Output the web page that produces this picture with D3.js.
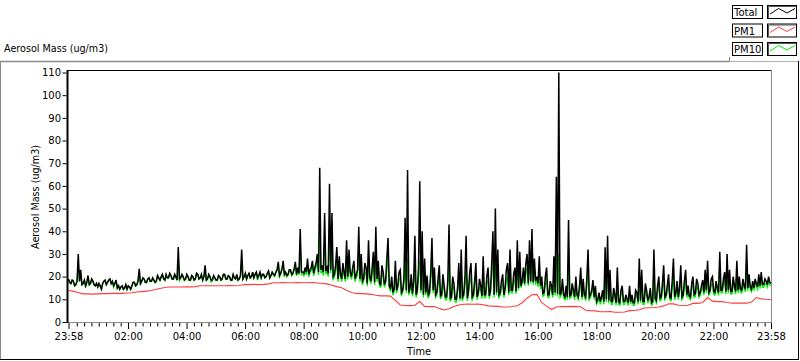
<!DOCTYPE html>
<html><head><meta charset="utf-8">
<script src="https://cdn.jsdelivr.net/npm/d3@7"></script>
<style>
html,body{margin:0;padding:0;background:#fff;}
svg{display:block;}
text{font-family:"DejaVu Sans",sans-serif;fill:#000;}
</style></head><body>
<svg id="chart" width="800" height="361"></svg>
<script>
// ---------- DATA ----------
const seriesNames = ["Total", "PM1", "PM10"];
const seriesColors = ["#000000", "#ff3c3c", "#00ee00"];
const titleText = "Aerosol Mass (ug/m3)";
const xAxisTitle = "Time";
const yAxisTitle = "Aerosol Mass (ug/m3)";
const yTicks = [0, 10, 20, 30, 40, 50, 60, 70, 80, 90, 100, 110];
const xTickLabels = ["23:58", "02:00", "04:00", "06:00", "08:00", "10:00", "12:00",
                     "14:00", "16:00", "18:00", "20:00", "22:00", "23:58"];
const startTime = "2000-01-01T23:58:00Z";
const sampleStepMin = 2.5;   // Total and PM10 samples (one row = one hour)
const pm1StepMin = 10;       // PM1 samples

const total = [
 19,17.5, 17,18.5, 18,16, 16.5,18, 30,18, 23,16.5, 17,18.5, 16,17.5, 20.5,16.5, 17,19, 18,16.5, 16,17,
 15.5,17, 16,14.5, 17,18, 18.5,16.5, 17.5,18.5, 19,17, 18,16, 17,18.5, 15,16, 14.5,15.5, 16,14.5, 15,16.5,
 14.5,16, 15.5,14.5, 16,17.5, 17.5,16, 16.5,18, 23.5,17, 18,19.5, 19,17.5, 17.5,19, 19.5,18, 18,19.5, 18.5,17.5,
 18,20.5, 19.5,18.5, 20,21, 19,18.5, 21,19.5, 19.5,21.5, 20.5,19, 19,21, 20,18.5, 33,19, 19.5,21, 20,18.5,
 19,21, 20,18.5, 18.5,20.5, 20,18.5, 19,21.5, 21,19, 19.5,21, 18.5,20, 25,18.5, 19,21, 20,18.5, 18.5,20.5,
 19.5,18.5, 18.5,20.5, 20,18.5, 19,21, 21,19, 19,20.5, 20,18.5, 18.5,21, 19.5,19, 21,18.5, 19,20.5, 32,19,
 20,21.5, 19,20.5, 21.5,19.5, 20,22, 19.5,21, 22,19.5, 20.5,22, 19.5,21, 21,19.5, 20,21.5, 22.5,19.5, 20.5,22,
 21,20.5, 22,23, 26.5,20.5, 21.5,23.5, 27,21, 22,20.5, 21,23, 23,21, 21.5,23.5, 26.5,21, 24,21.5, 41,22,
 22,21.5, 24,22, 28,21, 23,24, 27,21.5, 24,26, 30,22, 68,23, 25,22, 48,22.5, 24,21.5, 61,23,
 48,20, 21,25, 33,19, 29,21, 19,26, 22,19, 36,20, 32,22, 20,24, 27,19, 21,23, 42,19,
 30,18, 19,26, 24,17, 36,20, 18,24, 31,17.5, 42,19, 27,17, 16.5,25, 22,16.5, 18,28, 37,16,
 15,20, 13,14.5, 27,14, 16,22, 23,13, 14,19, 46,14, 67,13, 15,21, 12.5,18, 38,12, 14,24,
 62,14, 40,12, 28,13, 20.5,12, 13,22, 37,14, 24,12, 13,19, 25,11.5, 12,21, 16,11, 11,18,
 43,10.5, 11,20, 17,10, 10,15, 26,10.5, 32,11, 12,19, 38,10.5, 14,22, 26,11, 12,18, 26,11,
 13,19, 16,11.5, 29,12, 12,20, 24,11.5, 14,26, 40,12, 50,13, 32,12, 13,18, 21,12, 15,23,
 26,13, 32,14, 14,21, 24,13.5, 36,15, 31,16, 18,24, 17,26, 30,17, 36,18, 41,17.5, 28,18,
 20,17, 29,16, 20,12.5, 13,20, 24,12, 12,18, 16,12, 29,13, 64,12.5, 110,12, 13,19, 12,11,
 16,11, 45,11.5, 12,17, 14,11, 20,12, 11,16, 24,11, 19,12, 11,19, 32,11, 12,14, 18.5,11,
 16,9, 10,13, 9,11, 14,9, 33,10, 38,9.5, 23,9, 9,15, 12,8.5, 24,9, 8.5,14, 16,9,
 9,12, 10,8.5, 16,9, 12,8.5, 8.5,14, 13,9, 28,9.5, 23,9, 9,17, 14,9.5, 11,15, 8.5,9,
 32,10.5, 9.5,16, 20,10.5, 11,17, 25,11, 12,16, 21,11, 10.5,18, 28,11, 13,18, 11,15, 25,11,
 12,18, 23,12, 16,11.5, 11,17, 20,12, 12.5,19, 17,12, 13,16, 18.5,13, 23,14, 27,13, 14,19,
 20,13.5, 13,18, 15,13, 31,14, 14,19, 22,13.5, 30,14, 23,13.5, 13.5,20, 16,13.5, 27,14, 20,14.5,
 14,19, 16,14.5, 34,15, 21,15.5, 14.5,18, 15,19, 17,15.5, 21,16, 22,16.5, 16.5,19, 18,16.5, 20,17.5,
 17
];

const pm10 = [
 18.8,17.3, 16.8,18.3, 17.8,15.8, 16.3,17.8, 25,17.8, 20.5,16.3, 16.8,18.3, 15.2,17.3, 19.5,16.3, 16.8,18.8, 17.8,16.3, 15.8,16.8,
 15.3,16.8, 15.8,14.3, 16.8,17.8, 18.3,16.3, 17.3,18.3, 18.8,16.8, 17.8,15.2, 16.8,18.3, 14.8,15.8, 14.3,15.3, 15.8,14.3, 14.8,16.3,
 14.3,15.8, 15.3,14.3, 15.8,17.3, 17.3,15.8, 16.3,17.8, 21,16.2, 17.8,19.3, 18.8,17.3, 17.3,18.8, 19.3,17.8, 17.8,19.3, 18.3,17.3,
 17.8,20.3, 19.3,18.3, 19.8,20.8, 18.8,18.3, 20.8,19.3, 19.3,21.3, 20.3,18.8, 18.8,20.8, 19.8,18.3, 27,18.2, 19.3,20.8, 19.8,18.3,
 18.8,20.8, 19.8,18.3, 18.3,20.3, 19.8,18.3, 18.8,21.3, 20.8,18.8, 19.3,20.8, 18.3,19.8, 22.5,18.3, 18.8,20.8, 19.8,17.5, 18.3,20.3,
 19.3,18.3, 18.3,20.3, 19.8,18.3, 18.8,20.8, 20.8,18.8, 18.8,20.3, 19.8,18.3, 18.3,20.8, 19.3,18.8, 20.8,18.3, 18.8,20.3, 26,18.8,
 19.8,21.3, 18.8,20.3, 21.3,19.3, 19.8,21.8, 19.3,20.8, 21.8,18.5, 20.3,21.8, 19.3,20.8, 20.8,19.3, 19.8,21.3, 22.3,19.3, 20.3,21.8,
 20.7,20, 21.6,22.6, 24,19.8, 21,22.8, 24,20.5, 21.5,19.8, 20.5,22.5, 22.5,20.3, 21,23, 24,20.3, 23,20.8, 33,21,
 21,20.3, 23,20.8, 25.5,19.8, 22,22.5, 25,20.3, 22.5,24, 27,20.8, 42,21.5, 23,20.5, 36,21, 22.5,20, 38,21.5,
 34,18.8, 19.8,22, 27,17.8, 24,19.8, 17.8,22.5, 20.5,17.8, 29,18.8, 26,20.5, 18.8,21.5, 23,17.8, 19.8,20.5, 31,17.8,
 25,16.8, 17.8,22, 21,15.8, 28,18.5, 16.8,21, 25,16.3, 31,17.8, 22.5,15.8, 15.3,21.5, 19.5,15.3, 16.8,23, 28,14.8,
 13.8,17.5, 11.8,13.3, 21.5,12.8, 14.8,18.5, 19.5,11.8, 12.8,16.5, 26,12.8, 28,11.8, 13.8,17.5, 11.3,15.5, 24,10.8, 12.8,19.5,
 27,12.8, 26,10.8, 21.5,11.8, 17,10.8, 11.8,18, 27,12.8, 19.5,10.8, 11.8,16, 20,10.3, 10.8,17, 13.8,9.8, 9.8,15,
 27,9.3, 9.8,16, 14.5,8.8, 8.8,12.8, 20,9.3, 24,9.8, 10.8,15.5, 25,9.3, 12.5,17.5, 20,9.8, 10.8,15, 20,9.8,
 11.8,15.5, 14,10.3, 22,10.8, 10.8,16.5, 18.5,10.3, 12.8,20, 27,10.8, 30,11.8, 24,10.8, 11.8,15, 17,10.8, 13.5,18,
 20,11.8, 24,12.8, 12.8,17, 19,12.3, 27,14, 24,15, 17,20, 16,21, 24,16, 28,17, 31,16.5, 23,17,
 18,15.5, 23,14.5, 17,11.3, 11.8,16.5, 19,10.8, 10.8,15, 14,10.8, 22,11.8, 28,11.3, 30,10.8, 11.8,15.5, 10.8,9.8,
 14,9.8, 27,10.3, 10.8,14, 12.5,9.8, 16.5,10.8, 9.8,13.5, 19,9.8, 15.5,10.8, 9.8,15.5, 23,9.8, 10.8,12.5, 15.5,9.8,
 13.5,7.8, 8.8,11, 7.8,9.8, 12,7.8, 23,8.8, 27,8.3, 18,7.8, 7.8,12.5, 10.5,7.3, 18,7.8, 7.3,12, 13.5,7.8,
 7.8,10.5, 8.8,7.3, 13.5,7.8, 10.5,7.3, 7.3,12, 11.3,7.8, 20,8.3, 17.5,7.8, 7.8,14, 12,8.3, 9.8,12.5, 7.3,7.8,
 22,9.3, 8.3,13.5, 16,9.3, 9.8,14, 19,9.8, 10.8,13.5, 16.5,9.8, 9.3,15, 20,9.8, 11.5,15, 9.8,13, 19,9.8,
 10.8,15, 18,10.8, 13.5,10.3, 9.8,14.5, 16.5,10.8, 11.3,16, 14.5,10.8, 11.8,14, 15.5,11.8, 18.5,12.8, 21,11.8, 12.8,16,
 17,12.3, 11.8,15.5, 13.5,11.8, 23,12.8, 12.8,16.5, 18.5,12.3, 23,12.8, 19,12.3, 12.3,17, 14.5,12.3, 21,12.8, 17,13.3,
 12.8,16.5, 14.5,13.3, 25,13.8, 18.5,14.3, 13.3,16.5, 13.8,17, 15.5,14.3, 18.5,14.8, 19.5,15.3, 15.3,17, 16.5,15.3, 18,16.3,
 16
];

const pm1 = [
 14, 13.5, 13, 12.4, 12.4, 12.3,
 12.4, 12.5, 12.5, 12.6, 12.6, 12.6,
 12.8, 12.9, 13.2, 13.4, 13.6, 13.9,
 14.4, 14.9, 15.3, 15.4, 15.4, 15.4,
 15.5, 15.5, 15.6, 16, 16, 16,
 16, 16, 16, 16.1, 16, 16.1,
 16.5, 16.5, 16.6, 16.5, 16.6, 16.8,
 17.3, 17.3, 17.4, 17.3, 17.3, 17.4,
 17.3, 17.3, 17.4, 17.2, 17, 16.8,
 16.2, 15.6, 15.1, 14, 13, 12.6,
 12.5, 12.4, 12.2, 11.8, 11.5, 11.5,
 11.4, 9.5, 7.5, 7.3, 7.2, 7.4,
 9, 6.9, 6.8, 6.8, 6, 5.3,
 5.8, 6.8, 7.5, 7.8, 7.9, 7.8,
 7.9, 7.6, 7.1, 7, 6.9, 6.6,
 6.6, 6.8, 7.2, 8.5, 10.5, 12,
 12.2, 8.5, 7, 5.5, 6.6, 6.8,
 6.8, 6.9, 6.8, 6.7, 5.2, 5,
 4.9, 4.5, 4.5, 4.6, 4.3, 4.3,
 4.4, 5, 5.1, 5.4, 6.2, 6.3,
 6.4, 6.6, 7.1, 8, 8, 7.4,
 7.3, 7.4, 8.2, 8.2, 8.6, 10.8,
 9.2, 9, 9, 8.6, 8.3, 8.3,
 8.4, 8.3, 8.8, 10.8, 10.2, 10,
 9.9
];

// ---------- LAYOUT ----------
const W = 800, H = 361;
const plot = { left: 68.5, right: 771, top: 70, bottom: 322 };
const svg = d3.select("#chart");

const t0 = new Date(startTime);
const t1 = new Date(t0.getTime() + 1440 * 60000);
const timeAt = (i, step) => new Date(t0.getTime() + i * step * 60000);

const x = d3.scaleUtc().domain([t0, t1]).range([plot.left, plot.right]);
const y = d3.scaleLinear().domain([0, 110]).range([322, 72.5]);

// outer panel border
svg.append("rect").attr("x", 0).attr("y", 0).attr("width", W).attr("height", H).attr("fill", "#fff");
svg.append("line").attr("x1", 0).attr("x2", 729).attr("y1", 61.5).attr("y2", 61.5)
   .attr("stroke", "#8a8a8a").attr("stroke-width", 1.6);
svg.append("line").attr("x1", 729).attr("x2", 798).attr("y1", 61.5).attr("y2", 61.5)
   .attr("stroke", "#b0b0b0").attr("stroke-width", 1);
svg.append("line").attr("x1", 729.5).attr("x2", 729.5).attr("y1", 57).attr("y2", 62)
   .attr("stroke", "#8a8a8a");
svg.append("line").attr("x1", 0.5).attr("x2", 0.5).attr("y1", 61).attr("y2", 360)
   .attr("stroke", "#8a8a8a");
svg.append("line").attr("x1", 0).attr("x2", 799).attr("y1", 359.5).attr("y2", 359.5)
   .attr("stroke", "#000");
svg.append("line").attr("x1", 798.5).attr("x2", 798.5).attr("y1", 61).attr("y2", 360)
   .attr("stroke", "#000");

// title
svg.append("text").attr("x", 4).attr("y", 52).attr("font-size", 9.6).text(titleText);

// plot frame
svg.append("rect").attr("x", 68).attr("y", 70).attr("width", 704).attr("height", 252).attr("fill", "#fff");
svg.append("line").attr("x1", 68).attr("x2", 772).attr("y1", 70.5).attr("y2", 70.5).attr("stroke", "#000");
svg.append("line").attr("x1", 771.5).attr("x2", 771.5).attr("y1", 70).attr("y2", 322.5).attr("stroke", "#8c8c8c");
svg.append("line").attr("x1", 68).attr("x2", 772).attr("y1", 322.5).attr("y2", 322.5).attr("stroke", "#8c8c8c");

// series
const g = svg.append("g");
const lineFn = step => d3.line().x((d, i) => x(timeAt(i, step))).y(d => y(d));
g.append("path").datum(pm10).attr("d", lineFn(sampleStepMin))
  .attr("fill", "none").attr("stroke", seriesColors[2]).attr("stroke-width", 1.3);
g.append("path").datum(total).attr("d", lineFn(sampleStepMin))
  .attr("fill", "none").attr("stroke", seriesColors[0]).attr("stroke-width", 1.5);
g.append("path").datum(pm1).attr("d", lineFn(pm1StepMin))
  .attr("fill", "none").attr("stroke", seriesColors[1]).attr("stroke-width", 1.1);

// left axis line
svg.append("rect").attr("x", 66.5).attr("y", 70).attr("width", 2).attr("height", 253).attr("fill", "#000");

// y axis
const yAxis = d3.axisLeft(y).tickValues(yTicks).tickSize(4).tickPadding(1.5).tickFormat(d3.format("d"));
const gy = svg.append("g").attr("transform", "translate(66.5,0)").call(yAxis);
gy.select(".domain").remove();
gy.selectAll("text").attr("font-size", 10).attr("font-family", "DejaVu Sans");
gy.selectAll("line").attr("stroke", "#000");

// x axis
const majorDates = xTickLabels.map((lab, i) => {
  if (i === 0) return t0;
  if (i === xTickLabels.length - 1) return t1;
  const [hh, mm] = lab.split(":").map(Number);
  return new Date(Date.UTC(2000, 0, 2, hh, mm));
});
const minorDates = d3.utcMinute.every(15).range(t0, t1)
  .filter(d => majorDates.every(m => Math.abs(m - d) > 3 * 60000));
const gxm = svg.append("g").attr("transform", "translate(0,323)")
  .call(d3.axisBottom(x).tickValues(minorDates).tickSize(3.5).tickFormat(""));
gxm.select(".domain").remove();
gxm.selectAll("line").attr("stroke", "#000");
const gx = svg.append("g").attr("transform", "translate(0,323)")
  .call(d3.axisBottom(x).tickValues(majorDates).tickSize(6).tickPadding(3.5)
        .tickFormat((d, i) => xTickLabels[i]));
gx.select(".domain").remove();
gx.selectAll("line").attr("stroke", "#000");
gx.selectAll("text").attr("font-size", 10).attr("font-family", "DejaVu Sans");

// axis titles
svg.append("text").attr("x", 419).attr("y", 355).attr("text-anchor", "middle")
   .attr("font-size", 9.8).text(xAxisTitle);
svg.append("text").attr("transform", "translate(39,197) rotate(-90)").attr("text-anchor", "middle")
   .attr("font-size", 9.6).text(yAxisTitle);

// legend
const legRows = [5, 23.5, 42];
seriesNames.forEach((name, i) => {
  const yy = legRows[i];
  svg.append("rect").attr("x", 732.5).attr("y", yy + 0.5).attr("width", 30).attr("height", 13)
     .attr("fill", "#fff").attr("stroke", "#000");
  svg.append("text").attr("x", 734).attr("y", yy + 11).attr("font-size", 10).text(name);
  svg.append("rect").attr("x", 767.5).attr("y", yy + 0.5).attr("width", 29).attr("height", 13)
     .attr("fill", "#fff").attr("stroke", "#000");
  svg.append("path").attr("d", `M768.5,${yy+13}V${yy+1.5}H796`).attr("fill", "none").attr("stroke", "#555");
  const zig = [[770, 9], [778.5, 3.5], [787, 8], [795, 3.5]];
  svg.append("path").attr("d", d3.line()(zig.map(p => [p[0], yy + p[1]])))
     .attr("fill", "none").attr("stroke", seriesColors[i]).attr("stroke-width", 1);
});
</script>
</body></html>
